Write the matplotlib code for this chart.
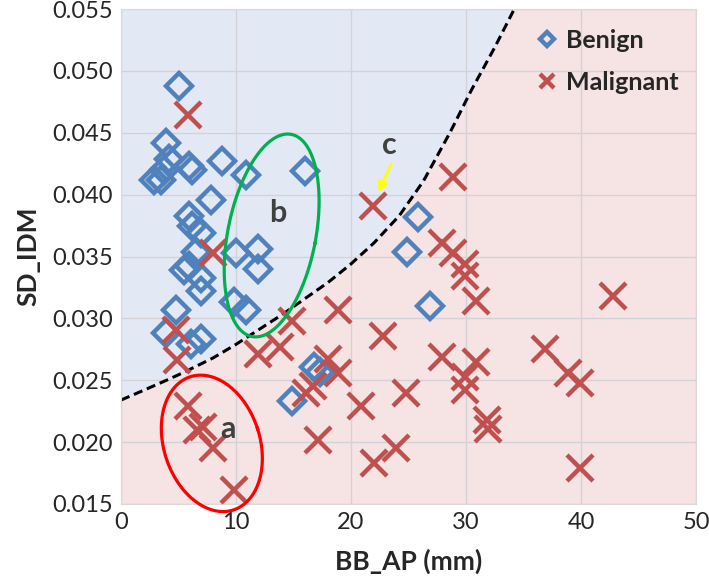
import numpy as np
import matplotlib
matplotlib.use("Agg")
import matplotlib.pyplot as plt

plt.rcParams['font.family'] = ['Lato', 'DejaVu Sans']

# benign cases (diamonds)
benign_x = [5.0, 3.9, 2.9, 3.5, 3.75, 4.2, 5.9, 6.2, 8.8, 10.9, 16.0, 7.8, 5.9,
            6.2, 6.95, 6.5, 5.9, 5.5, 6.95, 6.95, 10.0, 11.9, 11.9, 9.85, 10.9,
            4.8, 3.9, 6.95, 6.1, 25.8, 24.9, 26.9, 16.8, 17.3, 14.9]
benign_y = [0.0488, 0.0442, 0.0412, 0.0412, 0.0420, 0.0429, 0.0423, 0.0420, 0.0427, 0.0416, 0.0419, 0.0396, 0.0383,
            0.0375, 0.0369, 0.0354, 0.0342, 0.0339, 0.0333, 0.0322, 0.0353, 0.0356, 0.0340, 0.0313, 0.0307,
            0.0307, 0.0288, 0.0283, 0.0279, 0.0382, 0.0354, 0.0310, 0.0261, 0.0257, 0.0233]

# malignant cases (crosses)
malignant_x = [5.8, 8.0, 4.8, 4.9, 5.8, 6.65, 7.1, 8.0, 9.85, 11.9, 13.8, 14.9, 18.9,
               22.8, 27.9, 18.0, 18.9, 16.7, 16.1, 24.8, 20.9, 22.0, 23.9, 17.1, 21.9,
               28.9, 27.9, 28.9, 29.9, 29.9, 30.9, 42.8, 30.9, 29.9, 29.9, 31.8, 31.9,
               36.9, 38.9, 39.9, 39.9]
malignant_y = [0.0464, 0.0353, 0.0291, 0.0266, 0.0229, 0.0210, 0.0212, 0.0195, 0.0161, 0.0271, 0.0277, 0.0298, 0.0307,
               0.0286, 0.0269, 0.0267, 0.0256, 0.0245, 0.0240, 0.0240, 0.0229, 0.0183, 0.0195, 0.0202, 0.0391,
               0.0414, 0.0361, 0.0353, 0.0344, 0.0334, 0.0314, 0.0318, 0.0265, 0.0253, 0.0242, 0.0218, 0.0211,
               0.0275, 0.0256, 0.0248, 0.0179]

# decision boundary
boundary_x = [0, 2, 4.2, 5.6, 8, 10, 12, 14, 16, 18, 20, 22, 24.2, 26.3, 28.6, 30.5, 32.5, 34.2, 36]
boundary_y = [0.0234, 0.0242, 0.0251, 0.0257, 0.0268, 0.0279, 0.0291, 0.0303, 0.0316, 0.0329, 0.0344, 0.0361,
              0.0383, 0.0411, 0.0450, 0.0485, 0.0519, 0.0550, 0.0585]

BLUE = '#4F81BD'
RED = '#C0504D'

fig = plt.figure(figsize=(7.09, 5.86), dpi=100)
ax = fig.add_axes([121 / 709, 1 - 504 / 586, 575 / 709, 495 / 586])
ax.set_xlim(0, 50)
ax.set_ylim(0.015, 0.055)
ax.set_facecolor('#F6E3E3')

ax.fill_between(boundary_x, boundary_y, 0.07, color='#E3E9F4', lw=0, zorder=0.2)
ax.plot(boundary_x, boundary_y, color='black', lw=2.2, dashes=(3, 1.6), zorder=2)

ax.set_axisbelow(True)
ax.grid(True, color='#D2D2D8', lw=1)
ax.set_xticks(np.arange(0, 51, 10))
ax.set_yticks(np.arange(0.015, 0.0551, 0.005))
ax.set_yticklabels([f"{v:.3f}" for v in np.arange(0.015, 0.0551, 0.005)])
ax.tick_params(length=0, labelsize=17, labelcolor='#262626', pad=6)
for s in ax.spines.values():
    s.set_color('#D9D9D9')

ax.plot(benign_x, benign_y, ls='none', marker='D', ms=13, mfc='none', mec=BLUE, mew=3.2,
        label='Benign', zorder=3)
ax.plot(malignant_x, malignant_y, ls='none', marker='x', ms=19, mec=RED, mew=3.2,
        label='Malignant', zorder=3)

# ellipses drawn in pixel units, converted to data
sx = 575 / 50.0
sy = 495 / 0.04


def ellipse(cx, cy, a, b, tilt_deg, color):
    t = np.linspace(0, 2 * np.pi, 200)
    th = np.deg2rad(tilt_deg)
    u = b * np.cos(t)
    v = a * np.sin(t)
    px = u * np.cos(th) - v * np.sin(th)
    py = u * np.sin(th) + v * np.cos(th)
    ax.plot(cx + px / sx, cy + py / sy, color=color, lw=2.3, zorder=4, clip_on=False)


ellipse(7.9, 0.0199, 70, 48, 18, '#FF0000')
ellipse(13.1, 0.0367, 103, 44, -11, '#00B050')

lab = dict(fontsize=22, fontweight='bold', color='#404040', zorder=5)
ax.text(9.3, 0.0211, 'a', ha='center', va='center', **lab)
ax.text(13.6, 0.0385, 'b', ha='center', va='center', **lab)
ax.text(23.3, 0.0440, 'c', ha='center', va='center', **lab)
ax.annotate('', xy=(22.3, 0.0400), xytext=(23.6, 0.0427),
            arrowprops=dict(arrowstyle='-|>', color='#FFFF00', lw=2, mutation_scale=14), zorder=5)

ax.set_xlabel('BB_AP (mm)', fontsize=19, fontweight='bold', color='#262626', labelpad=11)
ax.set_ylabel('SD_IDM', fontsize=19, fontweight='bold', color='#262626', labelpad=8)

leg = ax.legend(loc='upper left', bbox_to_anchor=(0.682, 1.005), frameon=False, prop={'weight': 'bold', 'size': 18},
                handlelength=0.9, handletextpad=0.3, labelspacing=0.75, markerscale=0.55)
for t in leg.get_texts():
    t.set_color('#262626')

fig.savefig('out.png', dpi=100)
